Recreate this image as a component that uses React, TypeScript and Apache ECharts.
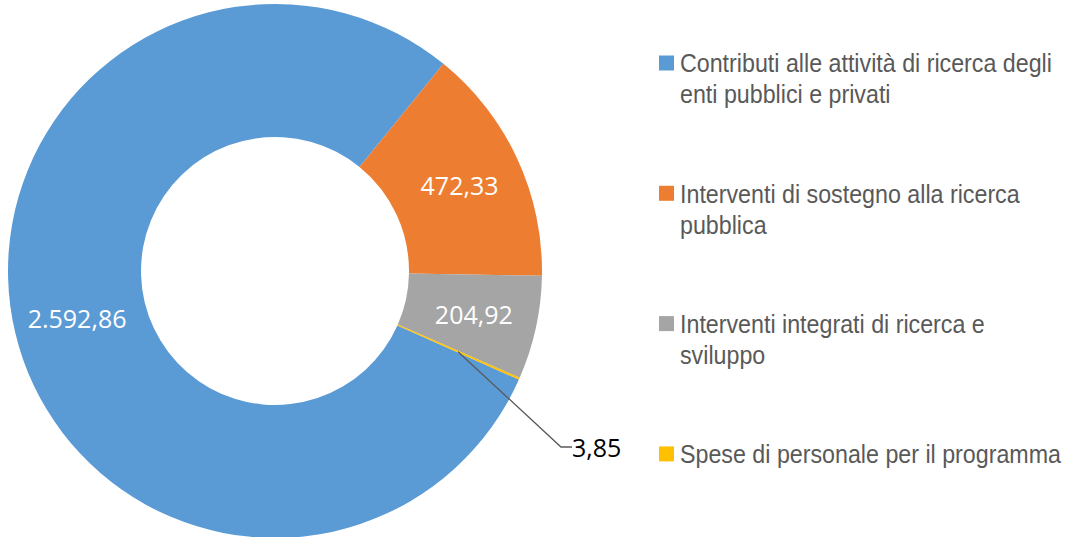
import React, { useEffect, useRef } from "react";
import * as echarts from "echarts";

const categories = [
  "Contributi alle attività di ricerca degli enti pubblici e privati",
  "Interventi di sostegno alla ricerca pubblica",
  "Interventi integrati di ricerca e sviluppo",
  "Spese di personale per il programma",
];
const legendLabels = [
  "Contributi alle attività di ricerca degli\nenti pubblici e privati",
  "Interventi di sostegno alla ricerca\npubblica",
  "Interventi integrati di ricerca e\nsviluppo",
  "Spese di personale per il programma",
];
const values = [2592.86, 472.33, 204.92, 3.85];
const colors = ["#5B9BD5", "#ED7D31", "#A5A5A5", "#FFC000"];

function fmtIt(v: number): string {
  const [intPart, dec] = v.toFixed(2).split(".");
  const grouped = intPart.replace(/\B(?=(\d{3})+(?!\d))/g, ".");
  return grouped + "," + dec;
}

export default function App() {
  const ref = useRef<HTMLDivElement>(null);
  useEffect(() => {
    if (!ref.current) return;
    const chart = echarts.init(ref.current, null, { renderer: "svg" });
    const center = [275, 271];
    const startAngle = -24;
    const legendTop = 63;
    const legendStep = 130.3;
    const legendItems: any[] = [];
    categories.forEach((c, i) => {
      const cy = legendTop + i * legendStep;
      legendItems.push({
        type: "rect",
        shape: { x: 659, y: cy - 7.5, width: 15, height: 15 },
        style: { fill: colors[i] },
        silent: true,
      });
      legendItems.push({
        type: "text",
        x: 680,
        y: cy - 15,
        scaleX: 0.93,
        style: {
          text: legendLabels[i],
          fill: "#595959",
          font: "25px 'Liberation Sans', Arial, sans-serif",
          lineHeight: 31,
          verticalAlign: "top",
          align: "left",
        },
        silent: true,
      });
    });
    chart.setOption({
      animation: false,
      color: colors,
      graphic: legendItems,
      series: [
        {
          type: "pie",
          z: 2,
          center,
          radius: [134, 267],
          startAngle,
          clockwise: true,
          avoidLabelOverlap: false,
          silent: true,
          data: values.map((v, i) => ({
            name: categories[i],
            value: v,
            itemStyle: { color: colors[i] },
            label: { show: i < 3 },
            labelLine: { show: false },
          })),
          label: {
            position: "inside",
            color: "#fff",
            fontSize: 25,
            fontFamily: "'Open Sans', sans-serif",
            formatter: (p: any) => fmtIt(p.value),
          },
        },
        {
          type: "pie",
          z: 5,
          center,
          radius: [0, 200],
          startAngle,
          clockwise: true,
          avoidLabelOverlap: false,
          silent: true,
          data: values.map((v, i) => ({
            name: categories[i],
            value: v,
            itemStyle: { color: "rgba(0,0,0,0)" },
            label: { show: i === 3, padding: [0, 0, 0, 7] },
            labelLine: { show: i === 3 },
          })),
          label: {
            position: "outside",
            color: "#000",
            fontSize: 25,
            fontFamily: "'Open Sans', sans-serif",
            formatter: (p: any) => fmtIt(p.value),
          },
          labelLine: {
            length: 20,
            length2: 11,
            lineStyle: { color: "#595959", width: 1.3 },
          },
          labelLayout: (params: any) =>
            params.dataIndex === 3
              ? { x: 565, y: 447, align: "left", verticalAlign: "middle" }
              : {},
        },
      ],
    });
    return () => chart.dispose();
  }, []);
  return (
    <div
      ref={ref}
      style={{ position: "absolute", left: 0, top: 0, width: 1066, height: 537, background: "#fff" }}
    />
  );
}
